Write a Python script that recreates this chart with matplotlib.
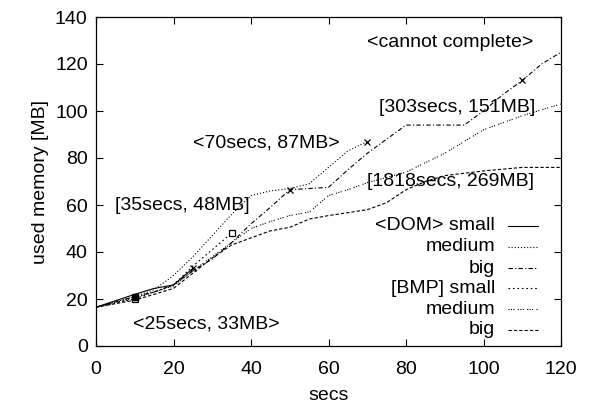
import matplotlib
matplotlib.use("Agg")
import matplotlib.pyplot as plt

plt.rcParams['font.family'] = ['Liberation Sans', 'DejaVu Sans']
plt.rcParams['font.size'] = 14

# ---- data ----
dom_small_x = [0, 10, 15, 20, 25]
dom_small_y = [16.5, 22, 24.5, 26, 33]

dom_medium_x = [0, 10, 15, 20, 25, 30, 35, 40, 45, 50, 55, 60, 65, 70]
dom_medium_y = [16.5, 21, 24, 30, 38, 47, 56, 64, 66, 67, 69, 76, 83, 87]

dom_big_x = [0, 10, 15, 20, 25, 30, 35, 40, 45, 50, 55, 60, 65, 70, 75, 80, 85, 90, 95, 100, 105, 110, 115, 120]
dom_big_y = [16.5, 21, 23, 26, 32, 37, 44, 52, 59, 66.5, 67, 67.5, 75, 82, 88, 94, 94, 94, 94, 100, 107, 113, 120, 125]

bmp_small_x = [0, 10, 15, 20, 25, 30, 35]
bmp_small_y = [16.5, 20, 23, 26, 34, 41, 48]

bmp_medium_x = [0, 10, 15, 20, 25, 30, 35, 40, 45, 50, 55, 60, 65, 70, 80, 85, 90, 95, 100, 110, 115, 120]
bmp_medium_y = [16.5, 20.5, 23, 25.5, 32, 38, 44, 50, 53, 55.5, 57, 64, 66.5, 69.5, 74, 78, 82, 87, 92, 98, 100.5, 103]

bmp_big_x = [0, 10, 15, 20, 25, 30, 35, 40, 45, 50, 55, 60, 70, 75, 80, 85, 90, 100, 110, 120]
bmp_big_y = [16.5, 19.5, 22, 24.5, 31, 37.5, 43, 46, 49, 50.5, 54, 55.5, 58, 61, 66.5, 70, 72.5, 74.5, 76, 76]

x_markers_x = [25, 50, 70, 110]
x_markers_y = [33, 66.5, 87, 113]

sq_open_x = [35, 10]
sq_open_y = [48, 20]
sq_fill_x = [10]
sq_fill_y = [21]

legend_labels = ["<DOM> small", "medium", "big", "[BMP] small", "medium", "big"]

annotations = [
    ("<25secs, 33MB>", 9.6, 9.4),
    ("[35secs, 48MB]", 4.9, 60),
    ("<70secs, 87MB>", 25, 86.4),
    ("<cannot complete>", 70, 129),
    ("[303secs, 151MB]", 73, 101.7),
    ("[1818secs, 269MB]", 70, 70.2),
]

xticks = [0, 20, 40, 60, 80, 100, 120]
yticks = [0, 20, 40, 60, 80, 100, 120, 140]

# ---- styles ----
lw = 0.8
styles = [
    dict(linestyle='-'),
    dict(linestyle=(0, (1, 1.8))),
    dict(linestyle=(0, (4, 2, 1, 2))),
    dict(linestyle=(0, (1.5, 2.5))),
    dict(linestyle=(0, (1, 1.2, 1, 1.2, 1, 3))),
    dict(linestyle=(0, (3, 1.8))),
]

fig = plt.figure(figsize=(5.9, 4.08), dpi=100)
ax = fig.add_axes([96/590, 62/408, 465/590, 329/408])

series = [
    (dom_small_x, dom_small_y),
    (dom_medium_x, dom_medium_y),
    (dom_big_x, dom_big_y),
    (bmp_small_x, bmp_small_y),
    (bmp_medium_x, bmp_medium_y),
    (bmp_big_x, bmp_big_y),
]
for (xs, ys), st in zip(series, styles):
    ax.plot(xs, ys, color='black', lw=lw, **st)

ax.plot(x_markers_x, x_markers_y, linestyle='none', marker='x', color='black', ms=5, mew=0.9)
ax.plot(sq_open_x, sq_open_y, linestyle='none', marker='s', mfc='white', mec='black', ms=5, mew=0.9)
ax.plot(sq_fill_x, sq_fill_y, linestyle='none', marker='s', color='black', ms=5)

for txt, tx, ty in annotations:
    ax.text(tx, ty, txt, ha='left', va='center', fontsize=14)

# manual gnuplot-style legend
row_y = [0.365, 0.301, 0.237, 0.176, 0.112, 0.049]
for lab, ry, st in zip(legend_labels, row_y, styles):
    ax.text(0.858, ry, lab, transform=ax.transAxes, ha='right', va='center', fontsize=14)
    ax.plot([0.886, 0.951], [ry, ry], transform=ax.transAxes, color='black', lw=lw, **st)

ax.set_xlim(0, 120)
ax.set_ylim(0, 140)
ax.set_xticks(xticks)
ax.set_yticks(yticks)
ax.tick_params(direction='in', top=True, right=True, length=5, width=0.8, labelsize=14)
ax.tick_params(axis='x', pad=11)
ax.tick_params(axis='y', pad=6)
for s in ax.spines.values():
    s.set_linewidth(0.9)
ax.set_xlabel("secs", fontsize=14, labelpad=6)
ax.set_ylabel("used memory [MB]", fontsize=14, labelpad=4)

fig.savefig("out.png", dpi=100)
